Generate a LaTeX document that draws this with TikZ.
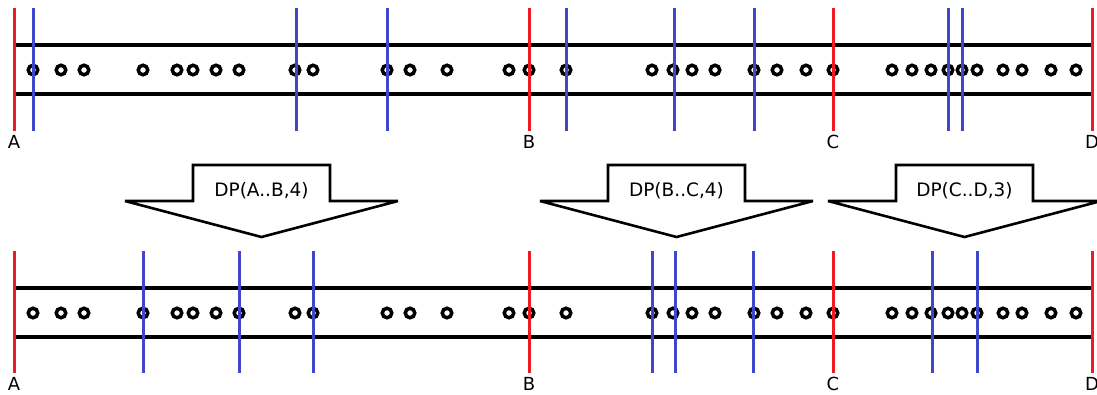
\documentclass[tikz,border=0pt]{standalone}
\usepackage{fontspec}
\setmainfont{DejaVu Sans}
\definecolor{cutred}{RGB}{237,28,36}
\definecolor{cutblue}{RGB}{63,72,204}
\begin{document}
\begin{tikzpicture}[x=1pt,y=-1pt,
  dot/.style={circle,draw=black,line width=3.5pt,minimum size=9.5pt,inner sep=0pt,fill=white},
  track/.style={line width=3.2pt,black},
  redcut/.style={line width=3pt,cutred},
  bluecut/.style={line width=3pt,cutblue},
  lbl/.style={font=\fontsize{18}{18}\selectfont,inner sep=0pt,anchor=base},
  bigarrow/.style={draw=black,fill=white,line width=2.6pt,line join=miter,miter limit=2.5},
  arrowtext/.style={font=\fontsize{18.5}{18.5}\selectfont,inner sep=0pt,anchor=base}
]
\useasboundingbox (0,0) rectangle (1097,394);
\clip (0,0) rectangle (1097,394);
\fill[white] (0,0) rectangle (1097,394);

% ---------- track endpoints
\coordinate (tl1) at (14,45);   \coordinate (tr1) at (1092,45);
\coordinate (tl2) at (14,94);   \coordinate (tr2) at (1092,94);
\coordinate (bl1) at (14,288);  \coordinate (br1) at (1092,288);
\coordinate (bl2) at (14,337);  \coordinate (br2) at (1092,337);
\draw[track] (tl1) -- (tr1);
\draw[track] (tl2) -- (tr2);
\draw[track] (bl1) -- (br1);
\draw[track] (bl2) -- (br2);

% ---------- circles
\foreach \x [count=\i] in {33,61,84,143,177,193,216,239,295,313,387,410,447,509,529,566,652,673,692,715,754,777,806,833,892,912,931,948,962,977,1003,1022,1051,1076}{
  \node[dot] (t\i) at (\x,70) {};
  \node[dot] (b\i) at (\x,313) {};
}

% ---------- top cut lines
\foreach \x [count=\i] in {33,296,387,566,674,754,948,962}{
  \coordinate (tbu\i) at (\x,8); \coordinate (tbd\i) at (\x,131);
  \draw[bluecut] (tbu\i) -- (tbd\i);
}
\foreach \x/\n in {14/A,529/B,833/C,1092/D}{
  \coordinate (tru\n) at (\x,8); \coordinate (trd\n) at (\x,131);
  \draw[redcut] (tru\n) -- (trd\n);
  \node[lbl] (tlab\n) at (\x,148) {\n};
}

% ---------- bottom cut lines
\foreach \x [count=\i] in {143,239,313,652,675,753,932,977}{
  \coordinate (bbu\i) at (\x,251); \coordinate (bbd\i) at (\x,373);
  \draw[bluecut] (bbu\i) -- (bbd\i);
}
\foreach \x/\n in {14/A,529/B,833/C,1092/D}{
  \coordinate (bru\n) at (\x,251); \coordinate (brd\n) at (\x,373);
  \draw[redcut] (bru\n) -- (brd\n);
  \node[lbl] (blab\n) at (\x,390.5) {\n};
}

% ---------- block arrows
\foreach \c/\t [count=\i] in {261.5/{DP(A..B,4)},676.5/{DP(B..C,4)},964.5/{DP(C..D,3)}}{
  \draw[bigarrow] (\c-68.5,201) -- (\c-68.5,165) -- (\c+68.5,165) -- (\c+68.5,201)
     -- (\c+136.5,201) -- (\c,237) -- (\c-136.5,201) -- cycle;
  \node[arrowtext] (dp\i) at (\c,196) {\t};
}
\end{tikzpicture}
\end{document}
